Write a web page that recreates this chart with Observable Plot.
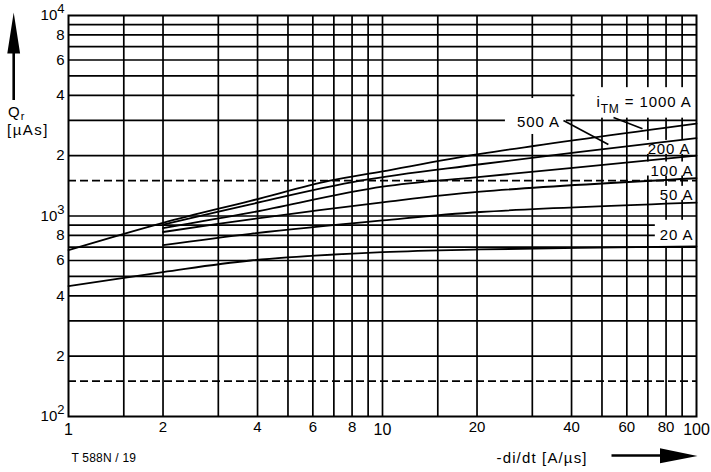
<!DOCTYPE html>
<html><head><meta charset="utf-8">
<script src="https://cdn.jsdelivr.net/npm/d3@7"></script>
<script src="https://cdn.jsdelivr.net/npm/@observablehq/plot@0.6"></script>
<style>
body{margin:0;background:#fff;}
#chart{width:711px;height:472px;}
</style></head><body><div id="chart"></div>
<script>
// ---- data ----
const seriesNames = ["1000 A", "500 A", "200 A", "100 A", "50 A", "20 A"];
const diDt1000 = [1, 2, 3.8, 6.8, 10, 20.5, 100];
const qr1000   = [676, 925, 1190, 1500, 1670, 2040, 2890];
const diDt500  = [2, 3.8, 8.5, 20.5, 100];
const qr500    = [905, 1144, 1500, 1812, 2446];
const diDt200  = [2, 3.8, 10, 20.5, 100];
const qr200    = [870, 1039, 1400, 1567, 2000];
const diDt100  = [2, 3.8, 10, 20.5, 100];
const qr100    = [832, 963, 1170, 1323, 1543];
const diDt50   = [2, 3.8, 10, 20.5, 100];
const qr50     = [716, 815, 950, 1047, 1166];
const diDt20   = [1, 2, 3.8, 10, 20.5, 100];
const qr20     = [447, 525, 600, 660, 681, 705];

const xGrid = [1.5, 2, 3, 4, 5, 6, 7, 8, 9, 10, 15, 20, 30, 40, 50, 60, 70, 80, 90];
const yGrid = [200, 300, 400, 500, 600, 700, 800, 900, 1000, 2000, 3000, 4000, 5000, 6000, 7000, 8000, 9000];
const yDashed = [150, 1500];
const xTicksDecade = [1, 10, 100];
const xTicksMinor = [2, 4, 6, 8, 20, 40, 60, 80];
const yTicks = [100, 200, 400, 600, 800, 1000, 2000, 4000, 6000, 8000, 10000];
const yTickLabels = ["10^2", "2", "4", "6", "8", "10^3", "2", "4", "6", "8", "10^4"];

const labelText   = ["iTM = 1000 A", "500 A", "200 A", "100 A", "50 A", "20 A"];
const labelDiDt   = [48, 26.8, 95.7, 97.8, 97.8, 97.8];
const labelQr     = [3490, 2780, 2040, 1592, 1204, 761];
const labelAnchor = ["start", "start", "end", "end", "end", "end"];

const leaderDiDt1 = [37.7, 54.4];
const leaderQr1   = [2995, 3099];
const leaderDiDt2 = [52.4, 67.3];
const leaderQr2   = [2273, 2722];

// ---- tables built from the arrays ----
const seriesX = [diDt1000, diDt500, diDt200, diDt100, diDt50, diDt20];
const seriesY = [qr1000, qr500, qr200, qr100, qr50, qr20];
const curves = seriesNames.flatMap((s, i) => seriesX[i].map((d, j) => ({s, d, q: seriesY[i][j]})));
const labels = labelText.map((t, i) => ({t, d: labelDiDt[i], q: labelQr[i], a: labelAnchor[i]}));
const leaders = leaderDiDt1.map((d, i) => ({x1: d, y1: leaderQr1[i], x2: leaderDiDt2[i], y2: leaderQr2[i]}));
const yTickRows = yTicks.map((v, i) => ({v, t: yTickLabels[i]}));

// white boxes behind labels: [left, right, top, bottom] padding around text
const labelPad = {
  "iTM = 1000 A": [22, 20, 6, 2],
  "500 A": [12, 6, 15, 4],
  "200 A": [4, 20, 0, -3],
  "100 A": [4, 20, 0, -3],
  "50 A": [4, 20, 0, -3],
  "20 A": [5, 20, 6, 4]
};

const font = "'Liberation Sans', Arial, Helvetica, sans-serif";
const gw = 1.7;

const plot = Plot.plot({
  width: 711, height: 472,
  marginTop: 15, marginRight: 15, marginBottom: 56, marginLeft: 68,
  x: {type: "log", domain: [1, 100], axis: null},
  y: {type: "log", domain: [100, 10000], axis: null},
  style: {fontFamily: font, fontSize: "15px", color: "black", background: "white"},
  marks: [
    Plot.ruleX(xGrid, {stroke: "black", strokeWidth: gw}),
    Plot.ruleY(yGrid, {stroke: "black", strokeWidth: gw}),
    Plot.ruleY(yDashed, {stroke: "black", strokeWidth: gw, strokeDasharray: "8,4"}),
    Plot.line(curves, {x: "d", y: "q", z: "s", curve: "catmull-rom", stroke: "black", strokeWidth: 1.8}),
    Plot.link(leaders, {x1: "x1", y1: "y1", x2: "x2", y2: "y2", stroke: "black", strokeWidth: 1.6}),
    Plot.frame({stroke: "black", strokeWidth: 2}),
    Plot.text(xTicksDecade, {x: d => d, text: d => String(d), frameAnchor: "bottom", lineAnchor: "top", dy: 7, fontSize: 16}),
    Plot.text(xTicksMinor, {x: d => d, text: d => String(d), frameAnchor: "bottom", lineAnchor: "top", dy: 5, fontSize: 15}),
    Plot.text(yTickRows, {y: "v", text: "t", frameAnchor: "left", textAnchor: "end", dx: -4, fontSize: 15}),
    Plot.text(labels.filter(l => l.a === "start"), {x: "d", y: "q", text: "t", textAnchor: "start", lineAnchor: "bottom", fontSize: 15}),
    Plot.text(labels.filter(l => l.a === "end"), {x: "d", y: "q", text: "t", textAnchor: "end", lineAnchor: "bottom", fontSize: 15})
  ]
});

const root = document.getElementById("chart");
root.append(plot);
const svg = d3.select(plot);
const xr = plot.scale("x").range;

// superscripts on decade tick labels, subscript in the current label
svg.selectAll('g[aria-label="text"] text').each(function() {
  const s = this.textContent;
  const t = d3.select(this);
  if (s.startsWith("10^")) {
    const e = s.slice(3);
    t.text("");
    t.append("tspan").text("10");
    t.append("tspan").attr("dy", "-7").attr("font-size", "13px").text(e);
  } else if (labelPad[s]) {
    t.attr("letter-spacing", "0.9px");
    if (s === "iTM = 1000 A") {
      t.text("");
      t.append("tspan").text("i");
      t.append("tspan").attr("dy", "5.5").attr("font-size", "12px").text("TM");
      t.append("tspan").attr("dy", "-5.5").text(" = 1000 A");
    }
  }
});

// white boxes behind labels, above the grid, below curves
const svgRect = plot.getBoundingClientRect();
const boxLayer = svg.insert("g", 'g[aria-label="line"]');
svg.selectAll('g[aria-label="text"] text').each(function() {
  const p = labelPad[this.textContent];
  if (!p) return;
  const b = this.getBoundingClientRect();
  const x0 = b.left - svgRect.left - p[0];
  const x1 = Math.min(b.right - svgRect.left + p[1], xr[1]);
  const y0 = b.top - svgRect.top - p[2];
  const y1 = b.bottom - svgRect.top + p[3];
  boxLayer.append("rect").attr("x", x0).attr("y", y0).attr("width", x1 - x0).attr("height", y1 - y0).attr("fill", "white");
});

// axis titles, caption, arrows
const yTitle = svg.append("text").attr("x", 8).attr("y", 117).attr("text-anchor", "start").attr("font-size", "15px").attr("letter-spacing", "1px");
yTitle.append("tspan").text("Q");
yTitle.append("tspan").attr("dy", "3").attr("font-size", "11px").text("r");
svg.append("text").attr("x", 7).attr("y", 135).attr("text-anchor", "start").attr("font-size", "15px").attr("letter-spacing", "1.5px").text("[µAs]");
svg.append("line").attr("x1", 13.7).attr("x2", 13.7).attr("y1", 100).attr("y2", 50).attr("stroke", "black").attr("stroke-width", 2.6);
svg.append("path").attr("d", "M7.3,53.5 L20.1,53.5 L13.7,12.5 Z").attr("fill", "black");

svg.append("text").attr("x", 496.5).attr("y", 463).attr("text-anchor", "start").attr("font-size", "15px").attr("letter-spacing", "1.15px").text("-di/dt [A/µs]");
svg.append("line").attr("x1", 611.5).attr("x2", 662).attr("y1", 455.5).attr("y2", 455.5).attr("stroke", "black").attr("stroke-width", 2.4);
svg.append("path").attr("d", "M660,448.3 L660,463.3 L697.5,456 Z").attr("fill", "black");

svg.append("text").attr("x", 71.5).attr("y", 461.5).attr("text-anchor", "start").attr("font-size", "12px").attr("letter-spacing", "0.2px").text("T 588N / 19");
</script>
</body></html>
